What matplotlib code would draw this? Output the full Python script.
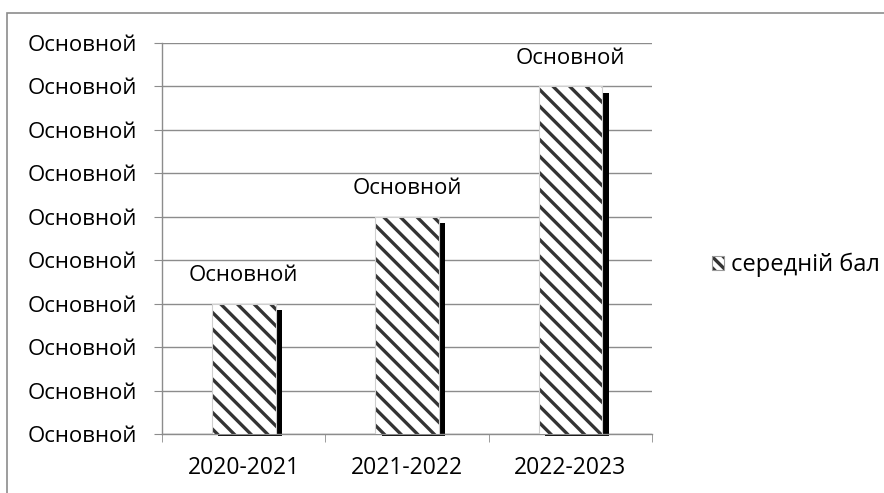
import matplotlib.pyplot as plt
from matplotlib.patches import Rectangle
from matplotlib.legend_handler import HandlerTuple
import numpy as np

plt.rcParams['font.family'] = ['Open Sans', 'DejaVu Sans']
plt.rcParams['hatch.linewidth'] = 2.4

# data
years = ['2020-2021', '2021-2022', '2022-2023']
avg_score = [3, 5, 8]
y_ticks = list(range(10))
tick_text = 'Основной'
series_name = 'середній бал'

FS = 16

fig = plt.figure(figsize=(8.84, 4.93), dpi=100)
ax = fig.add_axes([0.1833, 0.1197, 0.5543, 0.7931])

x = np.arange(len(years))
w = 0.39

# black drop shadow behind each bar
for xi, v in zip(x, avg_score):
    ax.add_patch(Rectangle((xi - w / 2 + 0.04, -0.04), w, v - 0.14 + 0.04,
                           facecolor='black', edgecolor='none',
                           clip_on=False, zorder=2))

# hatch colour follows the edge colour, so the outline is drawn separately
ax.bar(x, avg_score, width=w, color='white', edgecolor='#333333',
       linewidth=0, hatch='\\\\', zorder=3)
ax.bar(x, avg_score, width=w, fill=False, edgecolor='#cfcfcf',
       linewidth=0.8, zorder=4)

for xi, v in zip(x, avg_score):
    ax.text(xi, v + 0.65, tick_text, ha='center', va='center', fontsize=FS)

ax.set_xlim(-0.5, len(years) - 0.5)
ax.set_ylim(0, 9)
ax.set_yticks(y_ticks)
ax.set_yticklabels([tick_text] * len(y_ticks), fontsize=FS)
ax.set_xticks(x)
ax.set_xticklabels(years, fontsize=16.5)
ax.set_xticks(np.arange(len(years) + 1) - 0.5, minor=True)
ax.tick_params(axis='x', which='major', length=0, pad=16)
ax.tick_params(axis='x', which='minor', length=6, color='#8c8c8c', direction='out')
ax.tick_params(axis='y', length=6, color='#8c8c8c', pad=12)

ax.grid(axis='y', color='#8c8c8c', linewidth=1, zorder=0)
for s in ['top', 'right']:
    ax.spines[s].set_visible(False)
for s in ['left', 'bottom']:
    ax.spines[s].set_color('#8c8c8c')
    ax.spines[s].set_linewidth(1)
ax.set_axisbelow(True)

# small legend key: dense hatch with a thin grey frame drawn on top
key = Rectangle((0, 0), 1, 1, facecolor='white', edgecolor='#333333',
                linewidth=0, hatch='\\\\\\')
key_frame = Rectangle((0, 0), 1, 1, fill=False, edgecolor='#9a9a9a',
                      linewidth=0.8)
fig.legend(handles=[(key, key_frame)], labels=[series_name],
           handler_map={tuple: HandlerTuple(ndivide=1, pad=0)},
           loc='center left', bbox_to_anchor=(0.8054, 0.462), frameon=False,
           fontsize=17, handlelength=0.5, handleheight=0.5,
           handletextpad=0.3, borderaxespad=0, borderpad=0)

# outer chart border
fig.patches.append(Rectangle((7 / 884, -0.1), 1.1, 1.1 - 13 / 493,
                             transform=fig.transFigure, fill=False,
                             edgecolor='#8c8c8c', linewidth=1.2))

fig.savefig('out.png', dpi=100)
